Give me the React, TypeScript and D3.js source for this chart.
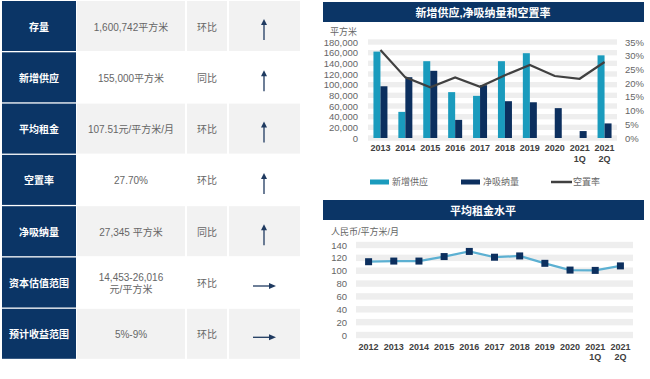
import React from "react";
import * as d3 from "d3";

// ---------- Data ----------
const tableLabels = ["存量", "新增供应", "平均租金", "空置率", "净吸纳量", "资本估值范围", "预计收益范围"];
const tableValues = [["1,600,742平方米"], ["155,000平方米"], ["107.51元/平方米/月"], ["27.70%"], ["27,345 平方米"], ["14,453-26,016", "元/平方米"], ["5%-9%"]];
const tableCompare = ["环比", "同比", "环比", "环比", "同比", "环比", "环比"];
const tableTrend = ["up", "up", "up", "up", "up", "flat", "flat"];

const supplyCats = [["2013"], ["2014"], ["2015"], ["2016"], ["2017"], ["2018"], ["2019"], ["2020"], ["2021", "1Q"], ["2021", "2Q"]];
const newSupply = [162000, 49000, 144000, 86000, 79000, 144000, 159000, 0, 0, 155000];
const netAbsorption = [97000, 114000, 126000, 34000, 99000, 69000, 67000, 56000, 13000, 27345];
const vacancy = [0.321, 0.221, 0.185, 0.221, 0.187, 0.229, 0.266, 0.226, 0.216, 0.277];
const leftTicks = [0, 20000, 40000, 60000, 80000, 100000, 120000, 140000, 160000, 180000];
const rightTicks = [0, 0.05, 0.1, 0.15, 0.2, 0.25, 0.3, 0.35];

const rentCats = [["2012"], ["2013"], ["2014"], ["2015"], ["2016"], ["2017"], ["2018"], ["2019"], ["2020"], ["2021", "1Q"], ["2021", "2Q"]];
const rentValues = [114, 115, 115, 122, 130, 121, 123, 111.5, 101, 100.5, 107.5];
const rentTicks = [0, 20, 40, 60, 80, 100, 120, 140];

// ---------- Styles ----------
const NAVY = "#0b3566";
const CYAN = "#1a9bbd";
const DARKNAVY = "#0c2f5e";
const GREY_CELL = "#f2f2f2";
const BAND = "#eeeeee";
const TXT = "#666666";
const FONT = "'Liberation Sans', Arial, 'Noto Sans CJK SC', sans-serif";

function Table() {
  const rowY = (i: number) => 1 + i * 51.3;
  const rowH = 50;
  const cols = [
    { x: 2, w: 74 },
    { x: 77, w: 108 },
    { x: 187, w: 40 },
    { x: 229, w: 71 },
  ];
  return (
    <g>
      {tableLabels.map((lab, i) => {
        const y = rowY(i);
        const cy = y + rowH / 2;
        const grey = i % 2 === 0;
        const vals = tableValues[i];
        return (
          <g key={i}>
            <rect x={cols[0].x} y={y} width={cols[0].w} height={rowH} fill={NAVY} />
            {grey && cols.slice(1).map((c, j) => (
              <rect key={j} x={c.x} y={y} width={c.w} height={rowH} fill={GREY_CELL} />
            ))}
            <text x={cols[0].x + cols[0].w / 2} y={cy + 1} fill="#fff" fontSize={10} fontWeight="bold" textAnchor="middle" dominantBaseline="central">{lab}</text>
            {vals.map((v, k) => (
              <text key={k} x={cols[1].x + cols[1].w / 2} y={cy + 1 + (vals.length === 2 ? (k === 0 ? -6 : 6) : 0)} fill={TXT} fontSize={10} textAnchor="middle" dominantBaseline="central">{v}</text>
            ))}
            <text x={cols[2].x + cols[2].w / 2} y={cy + 1} fill={TXT} fontSize={10} textAnchor="middle" dominantBaseline="central">{tableCompare[i]}</text>
            {tableTrend[i] === "up" ? (
              <g>
                <line x1={264} x2={264} y1={cy - 4} y2={cy + 14} stroke="#1f3a60" strokeWidth={1.3} />
                <path d={`M${264 - 3},${cy - 1} L264,${cy - 7} L${264 + 3},${cy - 1} Z`} fill="#1f3a60" />
              </g>
            ) : (
              <g>
                <line x1={253} x2={272} y1={cy + 3.5} y2={cy + 3.5} stroke="#1f3a60" strokeWidth={1.3} />
                <path d={`M${269},${cy + 0.5} L${276},${cy + 3.5} L${269},${cy + 6.5} Z`} fill="#1f3a60" />
              </g>
            )}
          </g>
        );
      })}
    </g>
  );
}

function SupplyChart() {
  const x = d3.scaleBand<string>().domain(supplyCats.map((c) => c.join(" "))).range([368, 617]);
  const yL = d3.scaleLinear().domain([0, 180000]).range([138, 42]);
  const yR = d3.scaleLinear().domain([0, 0.35]).range([138, 42]);
  const bandH = (yL(0) - yL(20000)) * 0.5;
  const bw = 7;
  const line = d3
    .line<number>()
    .x((_, i) => (x(supplyCats[i].join(" ")) as number) + x.bandwidth() / 2)
    .y((d) => yR(d));
  const fmt = d3.format(",");
  return (
    <g>
      <rect x={323} y={2} width={321} height={20} fill={NAVY} />
      <text x={483} y={12.5} fill="#fff" fontSize={11} fontWeight="bold" textAnchor="middle" dominantBaseline="central">新增供应,净吸纳量和空置率</text>
      <text x={330} y={32} fill={TXT} fontSize={9} dominantBaseline="central">平方米</text>
      {leftTicks.map((t) => (
        <rect key={t} x={368} y={yL(t) - bandH / 2} width={249} height={bandH} fill={BAND} />
      ))}
      {leftTicks.map((t) => (
        <text key={t} x={358} y={yL(t)} fill={TXT} fontSize={9.5} textAnchor="end" dominantBaseline="central">{fmt(t)}</text>
      ))}
      {rightTicks.map((t) => (
        <text key={t} x={625} y={yR(t)} fill={TXT} fontSize={9.5} dominantBaseline="central">{Math.round(t * 100) + "%"}</text>
      ))}
      {supplyCats.map((c, i) => {
        const cx = (x(c.join(" ")) as number) + x.bandwidth() / 2;
        return (
          <g key={i}>
            {newSupply[i] > 0 && <rect x={cx - bw} y={yL(newSupply[i])} width={bw} height={yL(0) - yL(newSupply[i])} fill={CYAN} />}
            <rect x={cx} y={yL(netAbsorption[i])} width={bw} height={yL(0) - yL(netAbsorption[i])} fill={DARKNAVY} />
            {c.map((s, k) => (
              <text key={k} x={cx} y={148 + k * 11} fill="#404040" fontSize={9} fontWeight="bold" textAnchor="middle" dominantBaseline="central">{s}</text>
            ))}
          </g>
        );
      })}
      <path d={line(vacancy) as string} fill="none" stroke="#404040" strokeWidth={2.2} />
      {/* legend */}
      <rect x={370} y={179.5} width={19} height={5} fill={CYAN} />
      <text x={392} y={182} fill={TXT} fontSize={9} dominantBaseline="central">新增供应</text>
      <rect x={461} y={179.5} width={19} height={5} fill={DARKNAVY} />
      <text x={483} y={182} fill={TXT} fontSize={9} dominantBaseline="central">净吸纳量</text>
      <line x1={551} x2={572} y1={182} y2={182} stroke="#404040" strokeWidth={2.5} />
      <text x={573} y={182} fill={TXT} fontSize={9} dominantBaseline="central">空置率</text>
    </g>
  );
}

function RentChart() {
  const x = d3.scaleBand<string>().domain(rentCats.map((c) => c.join(" "))).range([356, 633]);
  const y = d3.scaleLinear().domain([0, 140]).range([335, 245]);
  const bandH = (y(0) - y(20)) * 0.5;
  const cxOf = (i: number) => (x(rentCats[i].join(" ")) as number) + x.bandwidth() / 2;
  const line = d3
    .line<number>()
    .x((_, i) => cxOf(i))
    .y((d) => y(d));
  const m = 7;
  return (
    <g>
      <rect x={323} y={200} width={321} height={20} fill={NAVY} />
      <text x={483} y={210.5} fill="#fff" fontSize={11} fontWeight="bold" textAnchor="middle" dominantBaseline="central">平均租金水平</text>
      <text x={331} y={232} fill={TXT} fontSize={9} dominantBaseline="central">人民币/平方米/月</text>
      {rentTicks.map((t) => (
        <rect key={t} x={356} y={y(t) - bandH / 2} width={277} height={bandH} fill={BAND} />
      ))}
      {rentTicks.map((t) => (
        <text key={t} x={347} y={y(t)} fill={TXT} fontSize={9.5} textAnchor="end" dominantBaseline="central">{t}</text>
      ))}
      <path d={line(rentValues) as string} fill="none" stroke="#5cb0d2" strokeWidth={2.2} />
      {rentValues.map((v, i) => (
        <rect key={i} x={cxOf(i) - m / 2} y={y(v) - m / 2} width={m} height={m} fill={DARKNAVY} />
      ))}
      {rentCats.map((c, i) =>
        c.map((s, k) => (
          <text key={i + "-" + k} x={cxOf(i)} y={346.5 + k * 10.5} fill="#404040" fontSize={9} fontWeight="bold" textAnchor="middle" dominantBaseline="central">{s}</text>
        ))
      )}
    </g>
  );
}

export default function App() {
  return (
    <svg width={650} height={379} style={{ position: "absolute", left: 0, top: 0, background: "#fff" }} fontFamily={FONT}>
      <rect width={650} height={379} fill="#fff" />
      <Table />
      <SupplyChart />
      <RentChart />
    </svg>
  );
}
